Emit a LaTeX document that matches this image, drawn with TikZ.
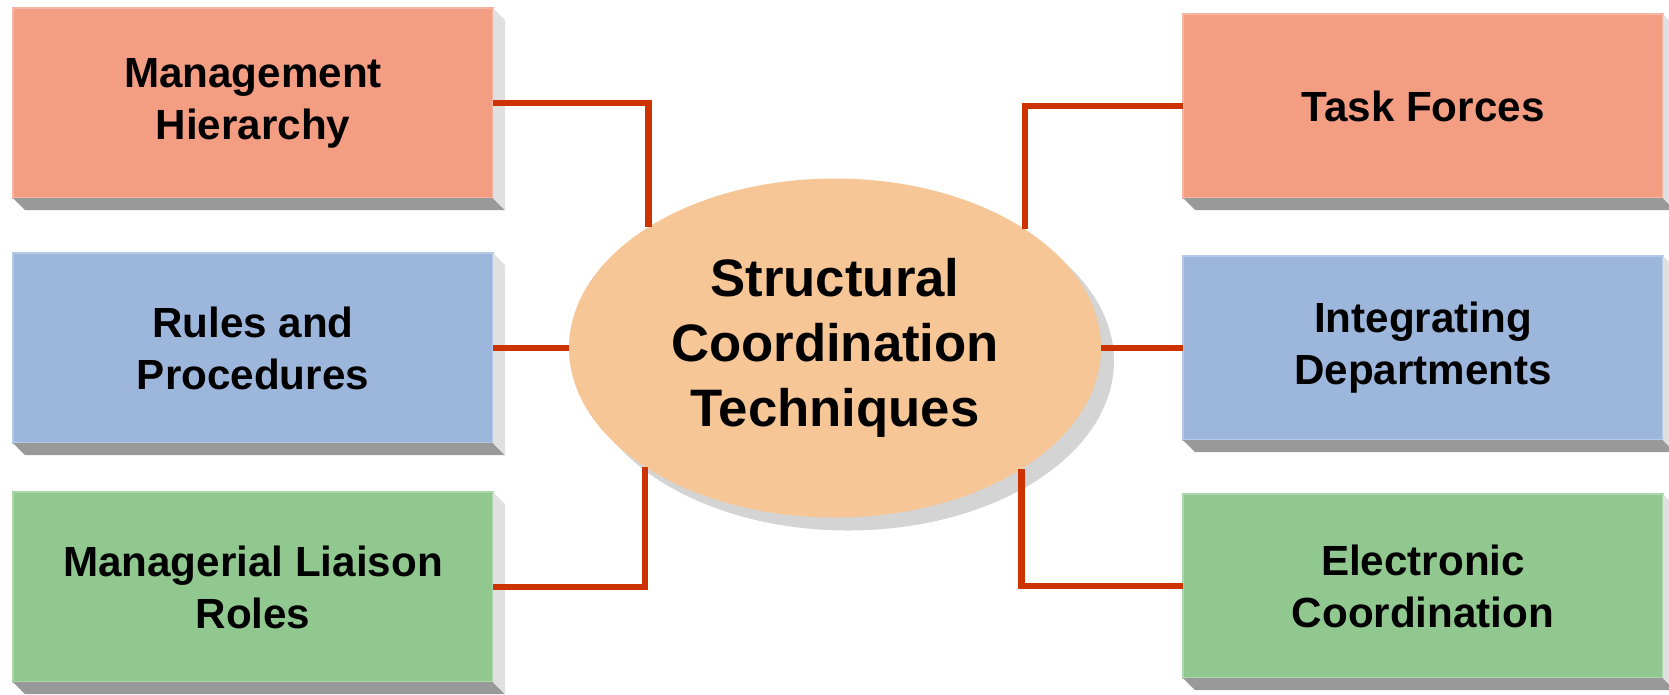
\documentclass[tikz,border=0pt]{standalone}
\usepackage{fontspec}
\setmainfont{Liberation Sans}
\usetikzlibrary{shapes.geometric,shadows,calc}

\definecolor{salmon}{RGB}{243,157,131}
\definecolor{steel}{RGB}{157,182,220}
\definecolor{sage}{RGB}{144,200,144}
\definecolor{peach}{RGB}{246,198,150}
\definecolor{linkred}{RGB}{204,51,0}
\definecolor{bottomgray}{RGB}{153,153,153}
\definecolor{sidegray}{RGB}{224,224,224}

\begin{document}
\begin{tikzpicture}
    [x=0.1mm,y=-0.1mm,
    box/.style={rectangle,minimum width=48mm,inner sep=0pt,outer sep=0pt,align=center,
      line width=0.6pt,font=\fontsize{12}{14.8}\selectfont\bfseries},
    leftbox/.style={box,minimum height=19mm},
    rightbox/.style={box,minimum height=18.4mm},
    core/.style={ellipse,fill=peach,minimum width=53.2mm,minimum height=33.9mm,
      inner sep=0pt,outer sep=0pt,align=center,
      font=\fontsize{15}{18.5}\selectfont\bfseries,
      drop shadow={shadow xshift=1.3mm,shadow yshift=-1.3mm,fill=black,opacity=.17}},
    link/.style={draw=linkred,line width=1.9pt}]
    \useasboundingbox (0,0) rectangle (1669,694);

    % left column
    \node (mh) at (253,103) [leftbox,fill=salmon,draw=salmon!75!white] {Management\\Hierarchy};
    \node (rp) at (253,348) [leftbox,fill=steel,draw=steel!75!white] {Rules and\\Procedures};
    \node (ml) at (253,587) [leftbox,fill=sage,draw=sage!75!white] {Managerial Liaison\\Roles};

    % right column
    \node (tf) at (1423,106) [rightbox,fill=salmon,draw=salmon!75!white] {Task Forces};
    \node (id) at (1423,348) [rightbox,fill=steel,draw=steel!75!white] {Integrating\\Departments};
    \node (ec) at (1423,586) [rightbox,fill=sage,draw=sage!75!white] {Electronic\\Coordination};

    % raised edges
    \foreach \nd in {mh,rp,ml,tf,id,ec} {
      \fill[bottomgray] (\nd.south west) -- (\nd.south east) -- ++(12,12)
        -- ($(\nd.south west)+(12,12)$) -- cycle;
      \fill[sidegray] (\nd.north east) -- ++(12,12)
        -- ($(\nd.south east)+(12,12)$) -- (\nd.south east) -- cycle;
    }

    \node (core) at (835,348) [core] {Structural\\Coordination\\Techniques};

    \draw[link] (mh.east) -| (core.147.4);
    \draw[link] (rp.east) -- (core.west);
    \draw[link] (ml.east) -| (core.212.6);
    \draw[link] (tf.west) -| (core.32.6);
    \draw[link] (core.east) -- (id.west);
    \draw[link] (ec.west) -| (core.327.4);
\end{tikzpicture}
\end{document}
